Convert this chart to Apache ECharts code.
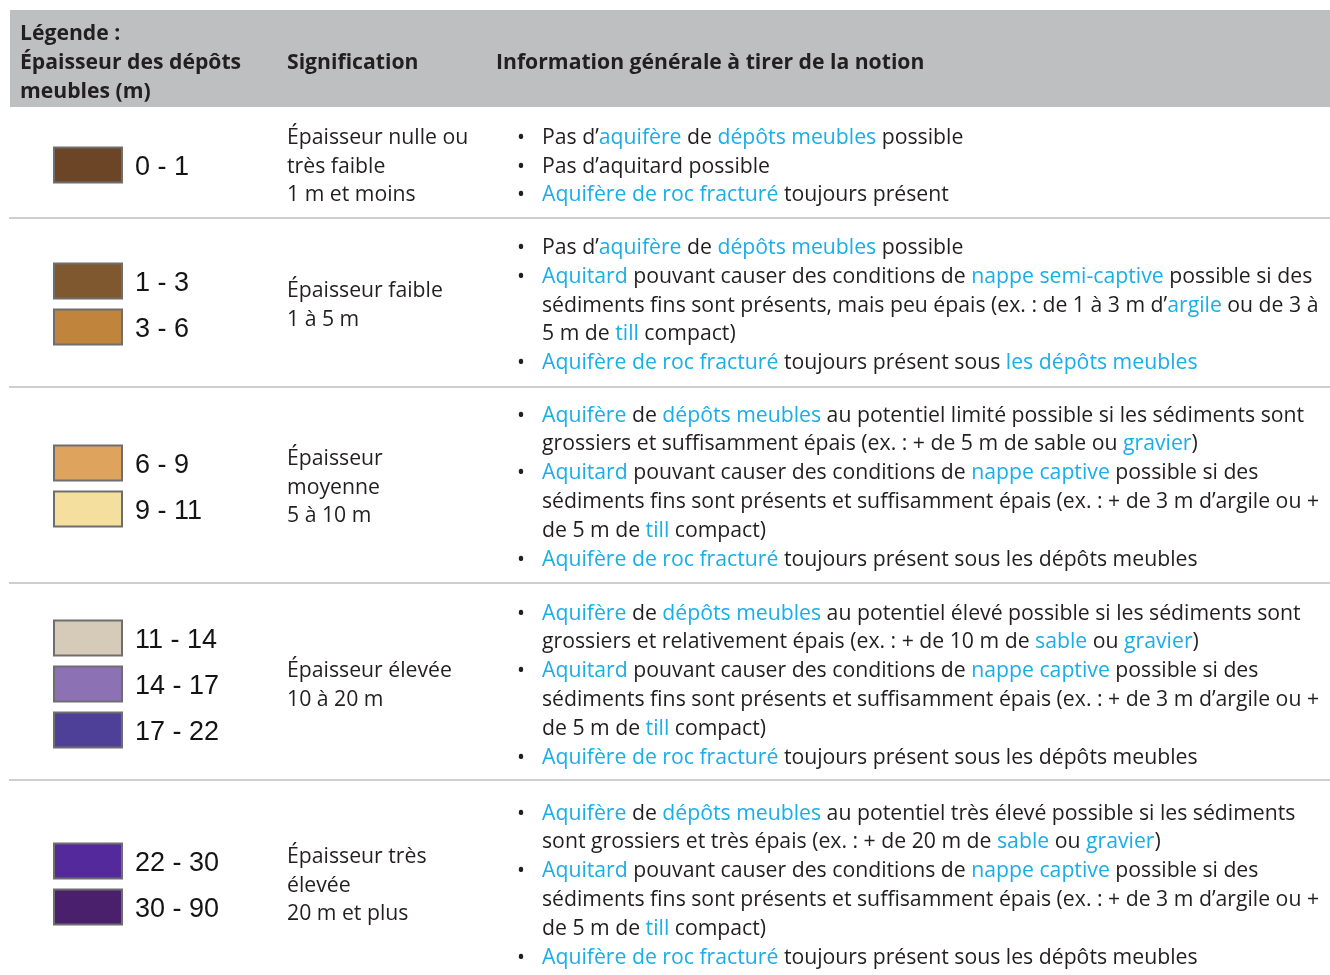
<!DOCTYPE html>
<html>
<head>
<meta charset="utf-8">
<script src="https://cdn.jsdelivr.net/npm/echarts@6/dist/echarts.min.js"></script>
<style>html,body{margin:0;padding:0;background:#fff}#c{width:1330px;height:975px}</style>
</head>
<body>
<div id="c"></div>
<script>
// ---------- DATA ----------
const headerLegend = ['Légende :', 'Épaisseur des dépôts', 'meubles (m)'];
const headerMeaning = 'Signification';
const headerInfo = 'Information générale à tirer de la notion';

const ranges = ['0 - 1', '1 - 3', '3 - 6', '6 - 9', '9 - 11', '11 - 14', '14 - 17', '17 - 22', '22 - 30', '30 - 90'];
const rangeColors = ['#6b4526', '#80582f', '#c0843d', '#dea35d', '#f4df9e', '#d6cab9', '#8c72b4', '#4e4099', '#54299b', '#4a206c'];
const rangeGroup = [0, 1, 1, 2, 2, 3, 3, 3, 4, 4];

const meanings = [
  ['Épaisseur nulle ou', 'très faible', '1 m et moins'],
  ['Épaisseur faible', '1 à 5 m'],
  ['Épaisseur', 'moyenne', '5 à 10 m'],
  ['Épaisseur élevée', '10 à 20 m'],
  ['Épaisseur très', 'élevée', '20 m et plus']
];

// [text] = highlighted (blue) term
const notions = [
  [
    ['Pas d’[aquifère] de [dépôts meubles] possible'],
    ['Pas d’aquitard possible'],
    ['[Aquifère de roc fracturé] toujours présent']
  ],
  [
    ['Pas d’[aquifère] de [dépôts meubles] possible'],
    ['[Aquitard] pouvant causer des conditions de [nappe semi-captive] possible si des',
     'sédiments fins sont présents, mais peu épais (ex. : de 1 à 3 m d’[argile] ou de 3 à',
     '5 m de [till] compact)'],
    ['[Aquifère de roc fracturé] toujours présent sous [les dépôts meubles]']
  ],
  [
    ['[Aquifère] de [dépôts meubles] au potentiel limité possible si les sédiments sont',
     'grossiers et suffisamment épais (ex. : + de 5 m de sable ou [gravier])'],
    ['[Aquitard] pouvant causer des conditions de [nappe captive] possible si des',
     'sédiments fins sont présents et suffisamment épais (ex. : + de 3 m d’argile ou +',
     'de 5 m de [till] compact)'],
    ['[Aquifère de roc fracturé] toujours présent sous les dépôts meubles']
  ],
  [
    ['[Aquifère] de [dépôts meubles] au potentiel élevé possible si les sédiments sont',
     'grossiers et relativement épais (ex. : + de 10 m de [sable] ou [gravier])'],
    ['[Aquitard] pouvant causer des conditions de [nappe captive] possible si des',
     'sédiments fins sont présents et suffisamment épais (ex. : + de 3 m d’argile ou +',
     'de 5 m de [till] compact)'],
    ['[Aquifère de roc fracturé] toujours présent sous les dépôts meubles']
  ],
  [
    ['[Aquifère] de [dépôts meubles] au potentiel très élevé possible si les sédiments',
     'sont grossiers et très épais (ex. : + de 20 m de [sable] ou [gravier])'],
    ['[Aquitard] pouvant causer des conditions de [nappe captive] possible si des',
     'sédiments fins sont présents et suffisamment épais (ex. : + de 3 m d’argile ou +',
     'de 5 m de [till] compact)'],
    ['[Aquifère de roc fracturé] toujours présent sous les dépôts meubles']
  ]
];

// ---------- LAYOUT / STYLE ----------
const FONT = '"Open Sans", "Noto Sans", sans-serif';
const TEXT = '#231f20';
const BLUE = '#1aaee8';
const rowSeparators = [218, 387, 583, 780];
const rowCenters = [164, 303, 485, 683, 883];
const TEXT_DY = 2.5;
const LH = 28.8;

function fitSize(strs, target, weight) {
  const ctx = document.createElement('canvas').getContext('2d');
  ctx.font = (weight || 'normal') + ' 100px ' + FONT;
  const w = strs.reduce((s, t) => s + ctx.measureText(t).width, 0);
  return 100 * target / w;
}
const bodySize = fitSize([
  'Aquitard pouvant causer des conditions de nappe semi-captive possible si des',
  'Aquifère de roc fracturé toujours présent sous les dépôts meubles',
  'sédiments fins sont présents, mais peu épais (ex. : de 1 à 3 m d’argile ou de 3 à'
], 778 + 653 + 772);
const headSize = fitSize([headerInfo, 'Épaisseur des dépôts'], 426 + 224, 'bold');

const chart = echarts.init(document.getElementById('c'), null, { renderer: 'canvas' });
const g = [];

// header band
g.push({ type: 'rect', shape: { x: 10, y: 10, width: 1320, height: 97 }, style: { fill: '#bebfc1' }, silent: true });
headerLegend.forEach((t, i) => g.push({ type: 'text', x: 20, y: 31 + TEXT_DY + i * 29,
  style: { text: t, fontFamily: FONT, fontSize: headSize, fontWeight: 'bold', fill: TEXT, verticalAlign: 'middle' } }));
g.push({ type: 'text', x: 287, y: 60 + TEXT_DY, style: { text: headerMeaning, fontFamily: FONT, fontSize: headSize, fontWeight: 'bold', fill: TEXT, verticalAlign: 'middle' } });
g.push({ type: 'text', x: 496, y: 60 + TEXT_DY, style: { text: headerInfo, fontFamily: FONT, fontSize: headSize, fontWeight: 'bold', fill: TEXT, verticalAlign: 'middle' } });

// separators
rowSeparators.forEach(y => g.push({ type: 'line', shape: { x1: 9, y1: y, x2: 1330, y2: y }, style: { stroke: '#cfcfcf', lineWidth: 2 }, silent: true }));

// swatches
const groupCount = {};
rangeGroup.forEach(gi => groupCount[gi] = (groupCount[gi] || 0) + 1);
const groupIdx = {};
ranges.forEach((r, i) => {
  const gi = rangeGroup[i];
  const k = groupIdx[gi] = (groupIdx[gi] === undefined ? 0 : groupIdx[gi] + 1);
  const n = groupCount[gi];
  const cy = rowCenters[gi] + 1 + (k - (n - 1) / 2) * 46;
  g.push({ type: 'rect', shape: { x: 54, y: cy - 17.5, width: 68, height: 35 },
    style: { fill: rangeColors[i], stroke: '#6e6e6e', lineWidth: 2 } });
  g.push({ type: 'text', x: 135, y: cy + 2.5,
    style: { text: r, fontFamily: '"Liberation Sans", Arial, sans-serif', fontSize: 27, fill: '#141414', verticalAlign: 'middle' } });
});

// meanings
meanings.forEach((lines, ri) => {
  const n = lines.length;
  lines.forEach((t, li) => g.push({ type: 'text', x: 287, y: rowCenters[ri] + TEXT_DY + (li - (n - 1) / 2) * LH,
    style: { text: t, fontFamily: FONT, fontSize: bodySize, fill: TEXT, verticalAlign: 'middle' } }));
});

// notions
notions.forEach((bullets, ri) => {
  const total = bullets.reduce((s, b) => s + b.length, 0);
  let li = 0;
  bullets.forEach(b => {
    b.forEach((line, j) => {
      const y = rowCenters[ri] + TEXT_DY + (li - (total - 1) / 2) * LH;
      if (j === 0) g.push({ type: 'text', x: 517, y: y,
        style: { text: '•', fontFamily: FONT, fontSize: bodySize, fill: TEXT, verticalAlign: 'middle' } });
      g.push({ type: 'text', x: 542, y: y,
        style: { text: line.replace(/\[([^\]]+)\]/g, '{b|$1}'), fontFamily: FONT, fontSize: bodySize, fill: TEXT, verticalAlign: 'middle',
          rich: { b: { fill: BLUE, fontFamily: FONT, fontSize: bodySize } } } });
      li++;
    });
  });
});

chart.setOption({ backgroundColor: '#ffffff', animation: false, graphic: { elements: g } });
</script>
</body>
</html>
